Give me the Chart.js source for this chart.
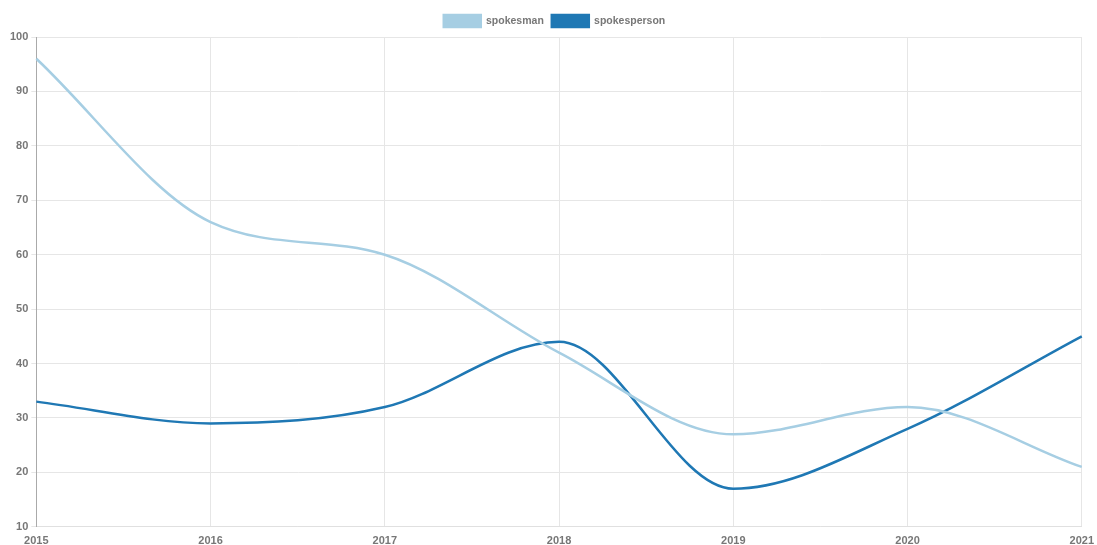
<!DOCTYPE html>
<html>
<head>
<meta charset="utf-8">
<script src="https://cdn.jsdelivr.net/npm/chart.js@4"></script>
<style>
    html, body { margin: 0; padding: 0; background: #fff; overflow: hidden; }
    #wrap { width: 1102px; height: 556px; }
</style>
</head>
<body>
<div id="wrap"><canvas id="line-chart"></canvas></div>
<script>
const years = ['2015', '2016', '2017', '2018', '2019', '2020', '2021'];
const spokesman = [96, 66, 60, 42, 27, 32, 21];
const spokesperson = [33, 29, 32, 44, 17, 28, 45];

Chart.defaults.font.family = '"Liberation Sans", Arial, Helvetica, sans-serif';
Chart.defaults.font.size = 11;
Chart.defaults.font.weight = 'bold';
Chart.defaults.color = '#777';

function renderLineChart() {
    const canvas = document.getElementById('line-chart');
    new Chart(canvas, {
        type: 'line',
        data: {
            labels: years,
            datasets: [{
                label: 'spokesman',
                data: spokesman,
                borderColor: '#a6cee3',
                backgroundColor: '#a6cee3',
                borderWidth: 2.5,
                pointRadius: 0,
                cubicInterpolationMode: 'monotone',
                fill: false
            }, {
                label: 'spokesperson',
                data: spokesperson,
                borderColor: '#1f78b4',
                backgroundColor: '#1f78b4',
                borderWidth: 2.5,
                pointRadius: 0,
                cubicInterpolationMode: 'monotone',
                fill: false
            }]
        },
        options: {
            responsive: true,
            maintainAspectRatio: false,
            animation: false,
            layout: { padding: { left: 7, right: 0, top: 7, bottom: 0 } },
            plugins: {
                legend: {
                    labels: { boxWidth: 37, boxHeight: 12, padding: 8, font: { size: 10.5 } }
                },
                tooltip: { enabled: false }
            },
            scales: {
                x: {
                    grid: { color: '#e6e6e6', tickLength: 0 },
                    border: { color: '#e0e0e0' },
                    ticks: { maxRotation: 0, padding: 8 }
                },
                y: {
                    min: 10,
                    max: 100,
                    grid: { color: '#e6e6e6', tickLength: 5 },
                    border: { color: '#aaaaaa' },
                    ticks: { stepSize: 10, padding: 3 }
                }
            }
        }
    });
}

renderLineChart();
</script>
</body>
</html>
